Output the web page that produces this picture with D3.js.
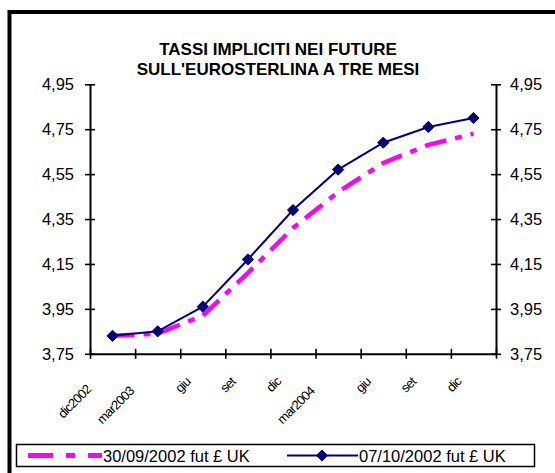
<!DOCTYPE html>
<html><head><meta charset="utf-8">
<script src="https://cdn.jsdelivr.net/npm/d3@7"></script>
<style>
html,body{margin:0;padding:0;background:#fff;}
svg{display:block;font-family:"Liberation Sans",Arial,sans-serif;}
</style></head>
<body><svg id="c" width="555" height="473"></svg>
<script>
const categories = ["dic2002","mar2003","giu","set","dic","mar2004","giu","set","dic"];
const series1Name = "30/09/2002 fut £ UK";
const series1 = [3.83, 3.84, 3.92, 4.11, 4.31, 4.47, 4.60, 4.68, 4.73];
const series2Name = "07/10/2002 fut £ UK";
const series2 = [3.83, 3.85, 3.96, 4.17, 4.39, 4.57, 4.69, 4.76, 4.80];
const yTicks = [3.75, 3.95, 4.15, 4.35, 4.55, 4.75, 4.95];
const titleLines = ["TASSI IMPLICITI NEI FUTURE", "SULL'EUROSTERLINA A TRE MESI"];

const svg = d3.select("#c");
svg.append("rect").attr("width",555).attr("height",473).attr("fill","#fff");
svg.append("rect").attr("x",9.5).attr("y",12).attr("width",600).attr("height",520)
  .attr("fill","none").attr("stroke","#000").attr("stroke-width",4);

const L = 90, R = 496, T = 84.3, B = 353.8;
const n = categories.length;
const x = d3.scaleLinear().domain([0, n]).range([L, R]);
const y = d3.scaleLinear().domain([3.75, 4.95]).range([B, T]);
const fmt = v => d3.format(".2f")(v).replace(".", ",");

const title = svg.append("text").attr("text-anchor","middle").attr("font-weight","bold")
  .attr("font-size",17).attr("fill","#000");
titleLines.forEach((t,i)=>title.append("tspan").attr("x",278).attr("y",55+20*i).text(t));

function styleAxis(g){
  g.select(".domain").attr("stroke","#000").attr("stroke-width",2);
  g.selectAll(".tick line").attr("stroke","#000").attr("stroke-width",1.6);
  g.selectAll(".tick text").attr("font-size",16.5).attr("fill","#000")
    .attr("font-family","Liberation Sans, Arial, sans-serif");
}
const gl = svg.append("g").attr("transform",`translate(${L},0)`)
  .call(d3.axisLeft(y).tickValues(yTicks).tickFormat(fmt).tickSize(5).tickSizeOuter(0).tickPadding(11));
gl.selectAll(".tick line").attr("x1",5);
styleAxis(gl);
const gr = svg.append("g").attr("transform",`translate(${R},0)`)
  .call(d3.axisRight(y).tickValues(yTicks).tickFormat(fmt).tickSize(5).tickSizeOuter(0).tickPadding(9));
gr.selectAll(".tick line").attr("x1",-5);
styleAxis(gr);

const gx = svg.append("g").attr("transform",`translate(0,${B})`)
  .call(d3.axisBottom(x).tickValues(d3.range(n+1)).tickFormat("").tickSize(5).tickSizeOuter(0));
gx.selectAll(".tick line").attr("y1",-5);
styleAxis(gx);

// rotated (-45°) category labels, condensed like the original
const xl = svg.append("g");
categories.forEach((c,i)=>{
  const g = xl.append("g");
  const t = g.append("text").attr("font-size",13).attr("letter-spacing",-0.7)
    .attr("text-anchor","end").attr("fill","#000").attr("x",0).attr("y",0).text(c);
  const len = t.node().getComputedTextLength();
  const ex = x(i+0.5) - 6 - 0.36*len;
  const ey = 378 + 0.3*len;
  g.attr("transform","translate(" + ex + "," + ey + ")");
  t.attr("transform","rotate(-45)");
});

const line = d3.line().x((d,i)=>x(i+0.5)).y(d=>y(d));
svg.append("path").datum(series1).attr("d",line).attr("fill","none")
  .attr("stroke","#FF00FF").attr("stroke-width",4.5).attr("stroke-dasharray","22,9,7,9");
svg.append("path").datum(series2).attr("d",line).attr("fill","none")
  .attr("stroke","#000080").attr("stroke-width",2);
const diamond = d3.symbol().type(d3.symbolDiamond2).size(80);
svg.append("g").selectAll("path").data(series2).join("path")
  .attr("transform",(d,i)=>`translate(${x(i+0.5)},${y(d)})`)
  .attr("d",diamond).attr("fill","#000080").attr("stroke","#000080").attr("stroke-width",1);

const lg = svg.append("g");
lg.append("rect").attr("x",16.5).attr("y",444.5).attr("width",518).attr("height",22)
  .attr("fill","#fff").attr("stroke","#000").attr("stroke-width",1.5);
lg.append("line").attr("x1",28).attr("x2",102).attr("y1",455.5).attr("y2",455.5)
  .attr("stroke","#FF00FF").attr("stroke-width",5).attr("stroke-dasharray","25,13,9,13");
lg.append("text").attr("x",103).attr("y",462).attr("font-size",16.5).attr("fill","#000").text(series1Name);
lg.append("line").attr("x1",287).attr("x2",358).attr("y1",455.5).attr("y2",455.5)
  .attr("stroke","#000080").attr("stroke-width",2);
lg.append("path").attr("transform","translate(322,455.5)").attr("d",diamond)
  .attr("fill","#000080").attr("stroke","#000080");
lg.append("text").attr("x",359).attr("y",462).attr("font-size",16.5).attr("fill","#000").text(series2Name);
</script></body></html>
